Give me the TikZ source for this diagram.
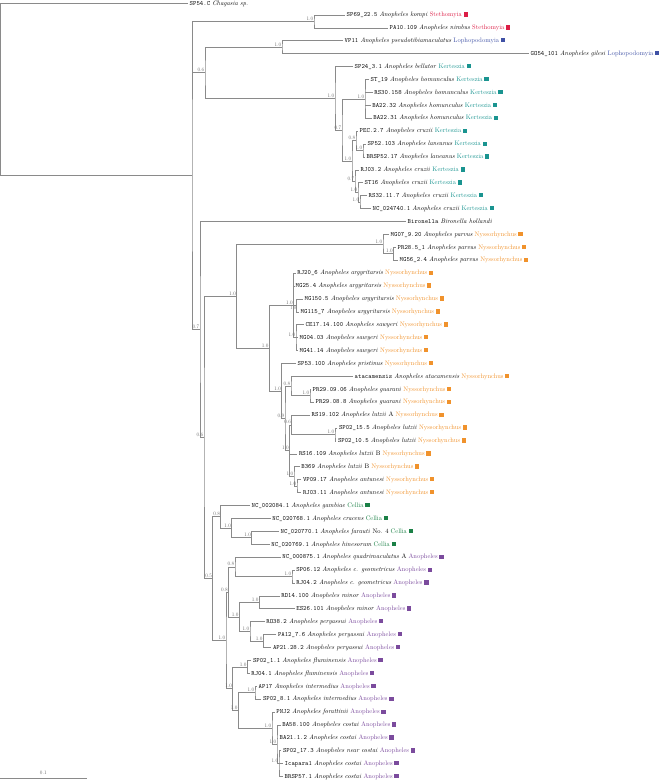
\documentclass[tikz,border=0pt]{standalone}
\usepackage{graphicx}
\definecolor{brc}{HTML}{8A8A8A}
\definecolor{cSte}{HTML}{DC1E46}
\definecolor{cLop}{HTML}{3F51A5}
\definecolor{cKer}{HTML}{1A9490}
\definecolor{cNys}{HTML}{F0922C}
\definecolor{cCel}{HTML}{1B8046}
\definecolor{cAno}{HTML}{7B4B9D}
\newcommand\usc{\char95\relax}
\newcommand\leaf[4]{\scalebox{0.65}{\texttt{#1} \textit{#2} \textcolor{#4}{#3}\hspace{2.6pt}\textcolor{#4}{\rule{6.6pt}{6.6pt}}}}
\newcommand\plain[1]{\scalebox{0.65}{#1}}
\begin{document}
\begin{tikzpicture}[x=1pt,y=-1pt,
  br/.style={draw=brc,line width=0.8pt},
  lab/.style={anchor=west,inner xsep=1.5pt,inner ysep=0pt,font=\fontsize{10}{12}\selectfont},
  supp/.style={anchor=south east,inner sep=0pt,font=\fontsize{10}{12}\selectfont,text=black!60}]
\useasboundingbox (0,0) rectangle (661,782);
% tips
\coordinate (t1) at (188,3.8);
\coordinate (t2) at (345,15.00);
\coordinate (t3) at (388,27.91);
\coordinate (t4) at (343,40.82);
\coordinate (t5) at (529,53.73);
\coordinate (t6) at (353,66.64);
\coordinate (t7) at (369,79.55);
\coordinate (t8) at (372.7,92.46);
\coordinate (t9) at (370.7,105.37);
\coordinate (t10) at (371.7,118.28);
\coordinate (t11) at (358,131.19);
\coordinate (t12) at (366,144.10);
\coordinate (t13) at (365,157.01);
\coordinate (t14) at (359,169.92);
\coordinate (t15) at (363,182.83);
\coordinate (t16) at (367,195.74);
\coordinate (t17) at (371,208.65);
\coordinate (t18) at (406,221.56);
\coordinate (t19) at (389,234.47);
\coordinate (t20) at (396,247.38);
\coordinate (t21) at (398,260.29);
\coordinate (t22) at (295.7,273.20);
\coordinate (t23) at (294,286.11);
\coordinate (t24) at (303,299.02);
\coordinate (t25) at (299,311.93);
\coordinate (t26) at (304,324.84);
\coordinate (t27) at (298,337.75);
\coordinate (t28) at (298,350.66);
\coordinate (t29) at (296,363.57);
\coordinate (t30) at (353,376.48);
\coordinate (t31) at (311,389.39);
\coordinate (t32) at (314,402.30);
\coordinate (t33) at (310,415.21);
\coordinate (t34) at (337.3,428.12);
\coordinate (t35) at (336.3,441.03);
\coordinate (t36) at (297.3,453.94);
\coordinate (t37) at (299.7,466.85);
\coordinate (t38) at (301.3,479.76);
\coordinate (t39) at (301.3,492.67);
\coordinate (t40) at (250,505.58);
\coordinate (t41) at (270.7,518.49);
\coordinate (t42) at (279,531.40);
\coordinate (t43) at (269.7,544.31);
\coordinate (t44) at (280.7,557.22);
\coordinate (t45) at (294.7,570.13);
\coordinate (t46) at (294.7,583.04);
\coordinate (t47) at (279.7,595.95);
\coordinate (t48) at (294.7,608.86);
\coordinate (t49) at (264.7,621.77);
\coordinate (t50) at (276.3,634.68);
\coordinate (t51) at (271.3,647.59);
\coordinate (t52) at (251.3,660.50);
\coordinate (t53) at (249.7,673.41);
\coordinate (t54) at (257,686.32);
\coordinate (t55) at (261.3,699.23);
\coordinate (t56) at (274.7,712.14);
\coordinate (t57) at (280.7,725.05);
\coordinate (t58) at (278,737.96);
\coordinate (t59) at (281.3,750.87);
\coordinate (t60) at (283,763.78);
\coordinate (t61) at (283,776.69);
% internal nodes
\coordinate (R) at (0.7,89.6);
\coordinate (A) at (192,175.5);
\coordinate (S) at (314,21.46);
\coordinate (O6) at (205,72.80);
\coordinate (LO) at (282,47.28);
\coordinate (K1) at (335,98.31);
\coordinate (K2) at (342,129.98);
\coordinate (HOM) at (365,98.92);
\coordinate (K3) at (352,161.04);
\coordinate (LA08) at (356,140.87);
\coordinate (LAN) at (363,150.56);
\coordinate (C1) at (355,181.22);
\coordinate (C2) at (358,192.51);
\coordinate (C3) at (360,202.20);
\coordinate (B7) at (200,329.5);
\coordinate (N0) at (204,437.4);
\coordinate (NY) at (236.7,296.2);
\coordinate (PV) at (383,244.15);
\coordinate (PV2) at (393.5,253.83);
\coordinate (NY2) at (269.3,348.2);
\coordinate (AS) at (293.5,305.48);
\coordinate (ARG2) at (296.5,305.48);
\coordinate (SA) at (296,337.75);
\coordinate (P) at (281.7,390.99);
\coordinate (P2) at (285,418.4);
\coordinate (AG08) at (291,386.16);
\coordinate (GU) at (310,395.85);
\coordinate (Q) at (289.5,450.7);
\coordinate (L) at (291.7,424.9);
\coordinate (SP02) at (335,434.58);
\coordinate (LB2) at (294,476.5);
\coordinate (LB3) at (297,486.2);
\coordinate (CA) at (212.7,578.61);
\coordinate (CE1) at (220.7,516.88);
\coordinate (CE2) at (231.7,528.18);
\coordinate (CE3) at (251.7,537.86);
\coordinate (AN1) at (226,640.34);
\coordinate (AN3) at (228.5,591.92);
\coordinate (AN2) at (235,566.9);
\coordinate (GEO) at (292,576.59);
\coordinate (MP) at (239.3,616.93);
\coordinate (MIN) at (259.3,602.4);
\coordinate (PE1) at (250,631.46);
\coordinate (PE2) at (263.3,641.14);
\coordinate (AN4) at (232.7,688.75);
\coordinate (FL) at (247.3,666.96);
\coordinate (IC) at (238.3,710.53);
\coordinate (IN) at (255,692.78);
\coordinate (CO1) at (272,728.28);
\coordinate (CO2) at (277,744.42);
\coordinate (CO3) at (279,763.78);
% branches
\draw[br] (A) -| (R) |- (t1);
\draw[br] (S) -| (A) |- (B7); \draw[br] (A |- O6) -- (O6);
\draw[br] (t2) -| (S) |- (t3);
\draw[br] (LO) -| (O6) |- (K1);
\draw[br] (t4) -| (LO) |- (t5);
\draw[br] (t6) -| (K1) |- (K2);
\draw[br] (HOM) -| (K2) |- (K3);
\draw[br] (t7) -| (HOM) |- (t10); \draw[br] (HOM |- t8) -- (t8); \draw[br] (HOM |- t9) -- (t9);
\draw[br] (LA08) -| (K3) |- (C1);
\draw[br] (t11) -| (LA08) |- (LAN);
\draw[br] (t12) -| (LAN) |- (t13);
\draw[br] (t14) -| (C1) |- (C2);
\draw[br] (t15) -| (C2) |- (C3);
\draw[br] (t16) -| (C3) |- (t17);
\draw[br] (t18) -| (B7) |- (N0);
\draw[br] (NY) -| (N0) |- (CA);
\draw[br] (PV) -| (NY) |- (NY2);
\draw[br] (t19) -| (PV) |- (PV2);
\draw[br] (t20) -| (PV2) |- (t21);
\draw[br] (AS) -| (NY2) |- (P);
\draw[br] (t22) -| (AS) |- (SA); \draw[br] (AS |- t23) -- (t23); \draw[br] (AS) -- (ARG2);
\draw[br] (t24) -| (ARG2) |- (t25);
\draw[br] (t26) -| (SA) |- (t28); \draw[br] (SA |- t27) -- (t27);
\draw[br] (t29) -| (P) |- (P2);
\draw[br] (AG08) -| (P2) |- (Q);
\draw[br] (t30) -| (AG08) |- (GU);
\draw[br] (t31) -| (GU) |- (t32);
\draw[br] (L) -| (Q) |- (LB2); \draw[br] (Q |- t36) -- (t36);
\draw[br] (t33) -| (L) |- (SP02);
\draw[br] (t34) -| (SP02) |- (t35);
\draw[br] (t37) -| (LB2) |- (LB3);
\draw[br] (t38) -| (LB3) |- (t39);
\draw[br] (CE1) -| (CA) |- (AN1);
\draw[br] (t40) -| (CE1) |- (CE2);
\draw[br] (t41) -| (CE2) |- (CE3);
\draw[br] (t42) -| (CE3) |- (t43);
\draw[br] (AN3) -| (AN1) |- (AN4);
\draw[br] (AN2) -| (AN3) |- (MP);
\draw[br] (t44) -| (AN2) |- (GEO);
\draw[br] (t45) -| (GEO) |- (t46);
\draw[br] (MIN) -| (MP) |- (PE1);
\draw[br] (t47) -| (MIN) |- (t48);
\draw[br] (t49) -| (PE1) |- (PE2);
\draw[br] (t50) -| (PE2) |- (t51);
\draw[br] (FL) -| (AN4) |- (IC);
\draw[br] (t52) -| (FL) |- (t53);
\draw[br] (IN) -| (IC) |- (CO1);
\draw[br] (t54) -| (IN) |- (t55);
\draw[br] (t56) -| (CO1) |- (CO2);
\draw[br] (t57) -| (CO2) |- (CO3); \draw[br] (CO2 |- t58) -- (t58);
\draw[br] (t59) -| (CO3) |- (t61); \draw[br] (CO3 |- t60) -- (t60);
% support values
\foreach \n/\v in {S/1.0,LO/1.0,O6/0.6,K1/1.0,K2/0.7,HOM/1.0,K3/1.0,LA08/0.8,LAN/1.0,C1/0.7,C2/1.0,C3/1.0,
  B7/0.7,N0/0.6,NY/1.0,PV/1.0,PV2/1.0,NY2/1.0,AS/1.0,SA/1.0,P/1.0,P2/0.9,AG08/0.8,GU/1.0,Q/1.0,L/0.6,
  SP02/1.0,LB2/1.0,LB3/1.0,CA/0.5,CE1/0.8,CE2/1.0,CE3/1.0,AN1/1.0,AN3/0.8,AN2/0.8,GEO/1.0,MP/1.0,MIN/1.0,
  PE1/1.0,PE2/1.0,AN4/1.0,FL/1.0,IC/1.0,IN/1.0,CO1/1.0,CO2/1.0,CO3/1.0}
  \node[supp] (s\n) at ([xshift=-0.6pt,yshift=0.6pt]\n) {\scalebox{0.52}{\v}};
\node[supp,anchor=north east] (sARG2) at ([xshift=-0.3pt,yshift=-0.6pt]ARG2) {\scalebox{0.45}{1.0}};
% leaf labels
\node[lab] (n1) at (t1) {\plain{\texttt{SP54.C} \textit{Chagasia sp.}}};
\node[lab] (n2) at (t2) {\leaf{SP69\usc 22.5}{Anopheles kompi}{Stethomyia}{cSte}};
\node[lab] (n3) at (t3) {\leaf{PA10.109}{Anopheles nimbus}{Stethomyia}{cSte}};
\node[lab] (n4) at (t4) {\leaf{VP11}{Anopheles pseudotibiamaculatus}{Lophopodomyia}{cLop}};
\node[lab] (n5) at (t5) {\leaf{GO54\usc 101}{Anopheles gilesi}{Lophopodomyia}{cLop}};
\node[lab] (n6) at (t6) {\leaf{SP24\usc 3.1}{Anopheles bellator}{Kerteszia}{cKer}};
\node[lab] (n7) at (t7) {\leaf{ST\usc 19}{Anopheles homunculus}{Kerteszia}{cKer}};
\node[lab] (n8) at (t8) {\leaf{RS30.158}{Anopheles homunculus}{Kerteszia}{cKer}};
\node[lab] (n9) at (t9) {\leaf{BA22.32}{Anopheles homunculus}{Kerteszia}{cKer}};
\node[lab] (n10) at (t10) {\leaf{BA22.31}{Anopheles homunculus}{Kerteszia}{cKer}};
\node[lab] (n11) at (t11) {\leaf{PEC.2.7}{Anopheles cruzii}{Kerteszia}{cKer}};
\node[lab] (n12) at (t12) {\leaf{SP52.103}{Anopheles laneanus}{Kerteszia}{cKer}};
\node[lab] (n13) at (t13) {\leaf{BRSP52.17}{Anopheles laneanus}{Kerteszia}{cKer}};
\node[lab] (n14) at (t14) {\leaf{RJ03.2}{Anopheles cruzii}{Kerteszia}{cKer}};
\node[lab] (n15) at (t15) {\leaf{ST16}{Anopheles cruzii}{Kerteszia}{cKer}};
\node[lab] (n16) at (t16) {\leaf{RS32.11.7}{Anopheles cruzii}{Kerteszia}{cKer}};
\node[lab] (n17) at (t17) {\leaf{NC\usc 024740.1}{Anopheles cruzii}{Kerteszia}{cKer}};
\node[lab] (n18) at (t18) {\plain{\texttt{Bironella} \textit{Bironella hollandi}}};
\node[lab] (n19) at (t19) {\leaf{MG07\usc 9.20}{Anopheles parvus}{Nyssorhynchus}{cNys}};
\node[lab] (n20) at (t20) {\leaf{PR28.5\usc 1}{Anopheles parvus}{Nyssorhynchus}{cNys}};
\node[lab] (n21) at (t21) {\leaf{MG56\usc 2.4}{Anopheles parvus}{Nyssorhynchus}{cNys}};
\node[lab] (n22) at (t22) {\leaf{RJ20\usc 6}{Anopheles argyritarsis}{Nyssorhynchus}{cNys}};
\node[lab] (n23) at (t23) {\leaf{MG25.4}{Anopheles argyritarsis}{Nyssorhynchus}{cNys}};
\node[lab] (n24) at (t24) {\leaf{MG150.5}{Anopheles argyritarsis}{Nyssorhynchus}{cNys}};
\node[lab] (n25) at (t25) {\leaf{MG115\usc 7}{Anopheles argyritarsis}{Nyssorhynchus}{cNys}};
\node[lab] (n26) at (t26) {\leaf{CE17.14.100}{Anopheles sawyeri}{Nyssorhynchus}{cNys}};
\node[lab] (n27) at (t27) {\leaf{MG04.03}{Anopheles sawyeri}{Nyssorhynchus}{cNys}};
\node[lab] (n28) at (t28) {\leaf{MG41.14}{Anopheles sawyeri}{Nyssorhynchus}{cNys}};
\node[lab] (n29) at (t29) {\leaf{SP53.100}{Anopheles pristinus}{Nyssorhynchus}{cNys}};
\node[lab] (n30) at (t30) {\leaf{atacamensis}{Anopheles atacamensis}{Nyssorhynchus}{cNys}};
\node[lab] (n31) at (t31) {\leaf{PR29.09.06}{Anopheles guarani}{Nyssorhynchus}{cNys}};
\node[lab] (n32) at (t32) {\leaf{PR29.08.8}{Anopheles guarani}{Nyssorhynchus}{cNys}};
\node[lab] (n33) at (t33) {\leaf{RS19.102}{Anopheles lutzii\/ \upshape A}{Nyssorhynchus}{cNys}};
\node[lab] (n34) at (t34) {\leaf{SP02\usc 15.5}{Anopheles lutzii}{Nyssorhynchus}{cNys}};
\node[lab] (n35) at (t35) {\leaf{SP02\usc 10.5}{Anopheles lutzii}{Nyssorhynchus}{cNys}};
\node[lab] (n36) at (t36) {\leaf{RS16.109}{Anopheles lutzii\/ \upshape B}{Nyssorhynchus}{cNys}};
\node[lab] (n37) at (t37) {\leaf{B369}{Anopheles lutzii\/ \upshape B}{Nyssorhynchus}{cNys}};
\node[lab] (n38) at (t38) {\leaf{VP09.17}{Anopheles antunesi}{Nyssorhynchus}{cNys}};
\node[lab] (n39) at (t39) {\leaf{RJ03.11}{Anopheles antunesi}{Nyssorhynchus}{cNys}};
\node[lab] (n40) at (t40) {\leaf{NC\usc 002084.1}{Anopheles gambiae}{Cellia}{cCel}};
\node[lab] (n41) at (t41) {\leaf{NC\usc 020768.1}{Anopheles cracens}{Cellia}{cCel}};
\node[lab] (n42) at (t42) {\leaf{NC\usc 020770.1}{Anopheles farauti\/ \upshape No. 4}{Cellia}{cCel}};
\node[lab] (n43) at (t43) {\leaf{NC\usc 020769.1}{Anopheles hinesorum}{Cellia}{cCel}};
\node[lab] (n44) at (t44) {\leaf{NC\usc 000875.1}{Anopheles quadrimaculatus\/ \upshape A}{Anopheles}{cAno}};
\node[lab] (n45) at (t45) {\leaf{SP06.12}{Anopheles c. geometricus}{Anopheles}{cAno}};
\node[lab] (n46) at (t46) {\leaf{RJ04.2}{Anopheles c. geometricus}{Anopheles}{cAno}};
\node[lab] (n47) at (t47) {\leaf{RD14.100}{Anopheles minor}{Anopheles}{cAno}};
\node[lab] (n48) at (t48) {\leaf{ES26.101}{Anopheles minor}{Anopheles}{cAno}};
\node[lab] (n49) at (t49) {\leaf{RO38.2}{Anopheles peryassui}{Anopheles}{cAno}};
\node[lab] (n50) at (t50) {\leaf{PA12\usc 7.6}{Anopheles peryassui}{Anopheles}{cAno}};
\node[lab] (n51) at (t51) {\leaf{AP21.28.2}{Anopheles peryassui}{Anopheles}{cAno}};
\node[lab] (n52) at (t52) {\leaf{SP02\usc 1.1}{Anopheles fluminensis}{Anopheles}{cAno}};
\node[lab] (n53) at (t53) {\leaf{RJ04.1}{Anopheles fluminensis}{Anopheles}{cAno}};
\node[lab] (n54) at (t54) {\leaf{AP17}{Anopheles intermedius}{Anopheles}{cAno}};
\node[lab] (n55) at (t55) {\leaf{SP02\usc 8.1}{Anopheles intermedius}{Anopheles}{cAno}};
\node[lab] (n56) at (t56) {\leaf{PNJ2}{Anopheles forattinii}{Anopheles}{cAno}};
\node[lab] (n57) at (t57) {\leaf{BA58.100}{Anopheles costai}{Anopheles}{cAno}};
\node[lab] (n58) at (t58) {\leaf{BA21.1.2}{Anopheles costai}{Anopheles}{cAno}};
\node[lab] (n59) at (t59) {\leaf{SP02\usc 17.3}{Anopheles near costai}{Anopheles}{cAno}};
\node[lab] (n60) at (t60) {\leaf{Icapara1}{Anopheles costai}{Anopheles}{cAno}};
\node[lab] (n61) at (t61) {\leaf{BRSP57.1}{Anopheles costai}{Anopheles}{cAno}};
% scale bar
\coordinate (sb0) at (0,778.3);
\coordinate (sb1) at (86.7,778.3);
\draw[br] (sb0) -- (sb1);
\node[inner sep=0pt,font=\fontsize{10}{12}\selectfont,text=black!60] (sbl) at (43.3,773) {\scalebox{0.52}{0.1}};
\end{tikzpicture}
\end{document}
